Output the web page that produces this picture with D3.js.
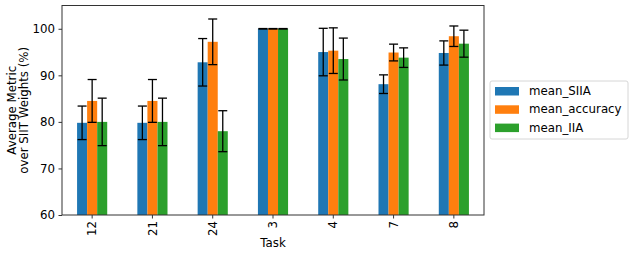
<!DOCTYPE html>
<html>
<head>
<meta charset="utf-8">
<script src="https://cdn.jsdelivr.net/npm/d3@7"></script>
<style>
  body { margin: 0; background: #fff; }
  svg text { font-family: "DejaVu Sans", sans-serif; fill: #000; }
</style>
</head>
<body>
<div id="chart"></div>
<script>
var tasks = ["12", "21", "24", "3", "4", "7", "8"];
var seriesNames = ["mean_SIIA", "mean_accuracy", "mean_IIA"];
var siiaMean = [79.8, 79.8, 92.8, 100.0, 95.0, 88.1, 94.8];
var siiaErr  = [3.6, 3.6, 5.1, 0.05, 5.1, 2.0, 2.6];
var accMean  = [84.5, 84.5, 97.2, 100.0, 95.3, 94.9, 98.4];
var accErr   = [4.6, 4.6, 4.9, 0.05, 4.9, 1.8, 2.2];
var iiaMean  = [80.0, 80.0, 78.0, 100.0, 93.5, 93.8, 96.8];
var iiaErr   = [5.1, 5.1, 4.4, 0.05, 4.5, 2.1, 2.9];
var yTicks = [60, 70, 80, 90, 100];
var colors = ["#1f77b4", "#ff7f0e", "#2ca02c"];

var means = [siiaMean, accMean, iiaMean];
var errs = [siiaErr, accErr, iiaErr];

var W = 634, H = 256;
var margin = {top: 5.5, right: 150, bottom: 41, left: 62};
var width = W - margin.left - margin.right;
var height = H - margin.top - margin.bottom;

var svg = d3.select("#chart").append("svg")
    .attr("width", W)
    .attr("height", H);

var g = svg.append("g")
    .attr("transform", "translate(" + margin.left + "," + margin.top + ")");

// flatten into rows
var rows = [];
tasks.forEach(function(t, i) {
    seriesNames.forEach(function(s, j) {
        rows.push({task: t, series: s, idx: j, value: means[j][i], err: errs[j][i]});
    });
});

var x = d3.scaleBand()
    .domain(tasks)
    .range([0, width])
    .paddingInner(0.5)
    .paddingOuter(0.25);

var xs = d3.scaleBand()
    .domain(seriesNames)
    .range([0, x.bandwidth()]);

var y = d3.scaleLinear()
    .domain([60, 105])
    .range([height, 0]);

// bars
g.selectAll("rect.bar")
    .data(rows)
    .enter()
    .append("rect")
    .attr("class", "bar")
    .attr("x", function(d) { return x(d.task) + xs(d.series); })
    .attr("y", function(d) { return y(d.value); })
    .attr("width", xs.bandwidth())
    .attr("height", function(d) { return height - y(d.value); })
    .style("fill", function(d) { return colors[d.idx]; });

// error bars
var eb = g.selectAll("g.err")
    .data(rows)
    .enter()
    .append("g")
    .attr("class", "err")
    .attr("transform", function(d) {
        return "translate(" + (x(d.task) + xs(d.series) + xs.bandwidth() / 2) + ",0)";
    });
eb.append("line")
    .attr("y1", function(d) { return y(d.value - d.err); })
    .attr("y2", function(d) { return y(d.value + d.err); })
    .attr("stroke", "#000").attr("stroke-width", 1.3);
eb.append("line")
    .attr("x1", -4.5).attr("x2", 4.5)
    .attr("y1", function(d) { return y(d.value - d.err); })
    .attr("y2", function(d) { return y(d.value - d.err); })
    .attr("stroke", "#000").attr("stroke-width", 1.3);
eb.append("line")
    .attr("x1", -4.5).attr("x2", 4.5)
    .attr("y1", function(d) { return y(d.value + d.err); })
    .attr("y2", function(d) { return y(d.value + d.err); })
    .attr("stroke", "#000").attr("stroke-width", 1.3);

// axes
var yAxis = g.append("g")
    .call(d3.axisLeft(y).tickValues(yTicks).tickSize(3.5).tickPadding(3.5));
yAxis.selectAll("text").style("font-size", "11.8px");

var xAxis = g.append("g")
    .attr("transform", "translate(0," + height + ")")
    .call(d3.axisBottom(x).tickSize(3.5).tickSizeOuter(0));
xAxis.selectAll("text")
    .style("font-size", "11.8px")
    .style("text-anchor", "end")
    .attr("transform", "rotate(-90)")
    .attr("x", -6)
    .attr("y", 0)
    .attr("dy", "0.35em");

g.selectAll(".domain").remove();
g.append("rect")
    .attr("width", width).attr("height", height)
    .attr("fill", "none").attr("stroke", "#333").attr("stroke-width", 1);
g.selectAll(".tick line").attr("stroke", "#333");

// axis labels
g.append("text")
    .attr("x", width / 2).attr("y", height + 32)
    .attr("text-anchor", "middle")
    .style("font-size", "11.8px")
    .text("Task");

var yl = svg.append("text")
    .attr("transform", "translate(16," + (margin.top + height / 2) + ") rotate(-90)")
    .attr("text-anchor", "middle")
    .style("font-size", "11.8px");
yl.append("tspan").attr("x", 0).attr("dy", 0).text("Average Metric");
yl.append("tspan").attr("x", 0).attr("dy", "12px").text("over SIIT Weights (%)");

// legend
var lg = svg.append("g").attr("transform", "translate(490,81)");
lg.append("rect")
    .attr("width", 138).attr("height", 58)
    .attr("rx", 2)
    .attr("fill", "#fff").attr("stroke", "#d6d6d6");
var item = lg.selectAll("g.item")
    .data(seriesNames)
    .enter()
    .append("g")
    .attr("class", "item")
    .attr("transform", function(d, i) { return "translate(0," + (10 + i * 18.3) + ")"; });
item.append("rect")
    .attr("x", 5).attr("y", -4)
    .attr("width", 24).attr("height", 8.5)
    .style("fill", function(d, i) { return colors[i]; });
item.append("text")
    .attr("x", 39).attr("y", 0)
    .attr("dy", "0.35em")
    .style("font-size", "11.8px")
    .text(function(d) { return d; });
</script>
</body>
</html>
